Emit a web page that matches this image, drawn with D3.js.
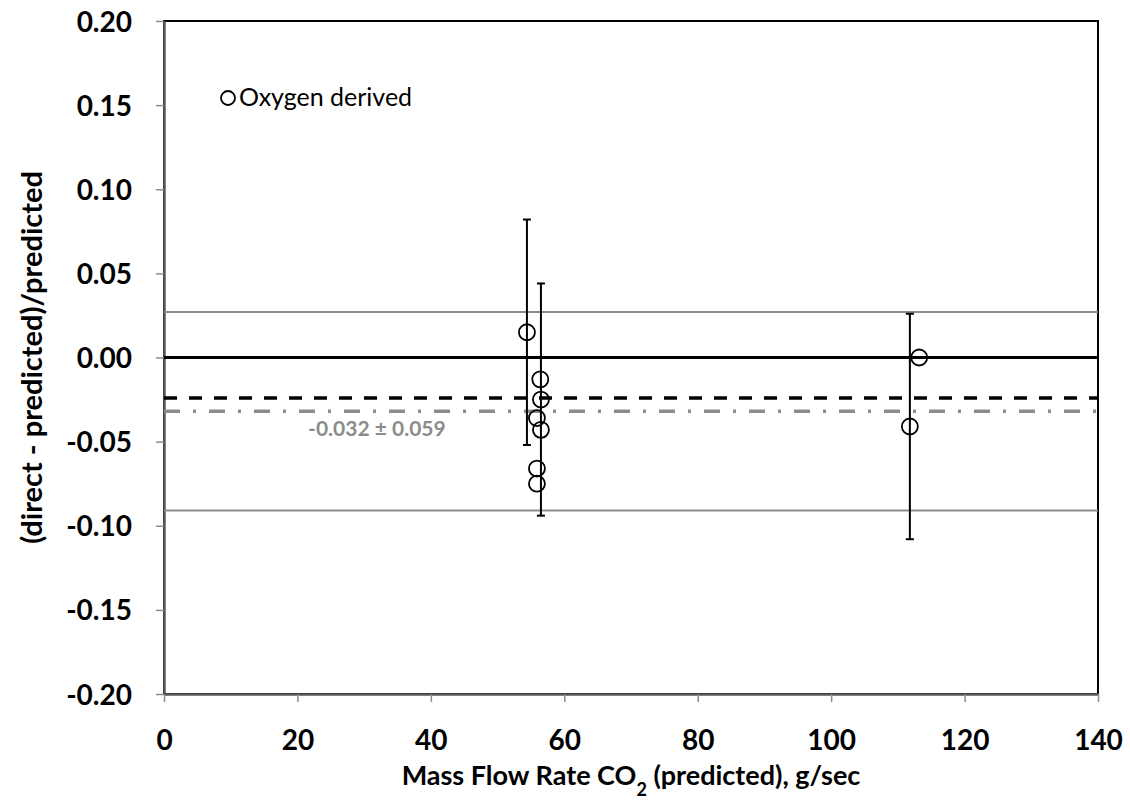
<!DOCTYPE html>
<html>
<head>
<meta charset="utf-8">
<script src="https://cdn.jsdelivr.net/npm/d3@7"></script>
<style>
  body { margin: 0; background: #fff; }
  text { font-family: Lato, "Open Sans", sans-serif; }
</style>
</head>
<body>
<div id="chart"></div>
<script>
// values
var flowRate  = [54.4, 56.4, 56.5, 55.9, 56.5, 55.9, 55.9, 111.8, 113.2];
var relDiff   = [0.015, -0.013, -0.025, -0.036, -0.043, -0.066, -0.075, -0.041, 0.000];
var errHalf   = [0.067, null, 0.069, null, null, null, null, 0.067, null];
var meanValue = -0.032;
var spread    = 0.059;
var dashedRef = -0.024;
var xTicks = [0, 20, 40, 60, 80, 100, 120, 140];
var yTicks = [0.20, 0.15, 0.10, 0.05, 0.00, -0.05, -0.10, -0.15, -0.20];

var margin = { top: 21, right: 32, bottom: 108, left: 164 },
    width = 1130 - margin.left - margin.right,
    height = 802 - margin.top - margin.bottom;

var svg = d3.select("#chart")
    .append("svg")
    .attr("width", 1130)
    .attr("height", 802)
    .append("g")
    .attr("transform", "translate(" + margin.left + "," + margin.top + ")");

var x = d3.scaleLinear().domain([0, 140]).range([0, width]);
var y = d3.scaleLinear().domain([-0.20, 0.20]).range([height, 0]);

// frame
svg.append("rect")
    .attr("width", width)
    .attr("height", height)
    .attr("fill", "none")
    .attr("stroke", "black")
    .attr("stroke-width", 2);

// axes
var xAxis = svg.append("g")
    .attr("transform", "translate(0," + height + ")")
    .call(d3.axisBottom(x).tickValues(xTicks).tickSize(8).tickSizeOuter(0));
var yAxis = svg.append("g")
    .call(d3.axisLeft(y).tickValues(yTicks)
        .tickFormat(function(d) { return d3.format(".2f")(d).replace("\u2212", "-"); })
        .tickSize(8).tickSizeOuter(0).tickPadding(24));

[xAxis, yAxis].forEach(function(a) {
    a.select(".domain").attr("stroke", "#595959").attr("stroke-width", 2.5);
    a.selectAll(".tick line").attr("stroke", "#8c8c8c").attr("stroke-width", 1.5);
    a.selectAll(".tick text")
        .style("font-size", "28px")
        .style("font-weight", "bold")
        .attr("fill", "black");
});
yAxis.selectAll(".tick text").attr("dy", "0.36em");
xAxis.selectAll(".tick text").attr("y", 56).attr("dy", 0);

// reference lines
function hline(v, color, w, dash) {
    svg.append("line")
        .attr("x1", 0).attr("x2", width)
        .attr("y1", y(v)).attr("y2", y(v))
        .attr("stroke", color)
        .attr("stroke-width", w)
        .attr("stroke-dasharray", dash);
}
hline(meanValue + spread, "#8c8c8c", 2, null);
hline(meanValue - spread, "#8c8c8c", 2, null);
hline(0, "black", 3, null);
hline(dashedRef, "black", 3.5, "13,12");
hline(meanValue, "#8c8c8c", 3.5, "16,13,3,13");

svg.append("text")
    .attr("x", x(21.6))
    .attr("y", y(meanValue) + 25)
    .attr("fill", "#8c8c8c")
    .style("font-size", "21px")
    .style("font-weight", "bold")
    .text("-0.032 \u00b1 0.059");

// error bars
var pts = flowRate.map(function(d, i) { return { x: d, y: relDiff[i], e: errHalf[i] }; });
var bars = svg.selectAll(".err")
    .data(pts.filter(function(d) { return d.e != null; }))
    .enter().append("g").attr("class", "err")
    .attr("stroke", "black").attr("stroke-width", 2);
bars.append("line")
    .attr("x1", function(d) { return x(d.x); }).attr("x2", function(d) { return x(d.x); })
    .attr("y1", function(d) { return y(d.y + d.e); }).attr("y2", function(d) { return y(d.y - d.e); });
[1, -1].forEach(function(s) {
    bars.append("line")
        .attr("x1", function(d) { return x(d.x) - 4; }).attr("x2", function(d) { return x(d.x) + 4; })
        .attr("y1", function(d) { return y(d.y + s * d.e); }).attr("y2", function(d) { return y(d.y + s * d.e); });
});

// points
svg.selectAll(".pt")
    .data(pts)
    .enter().append("circle")
    .attr("class", "pt")
    .attr("cx", function(d) { return x(d.x); })
    .attr("cy", function(d) { return y(d.y); })
    .attr("r", 8)
    .attr("fill", "none")
    .attr("stroke", "black")
    .attr("stroke-width", 1.8);

// legend
svg.append("circle")
    .attr("cx", 64).attr("cy", 77).attr("r", 7)
    .attr("fill", "none").attr("stroke", "black").attr("stroke-width", 1.8);
svg.append("text")
    .attr("x", 75).attr("y", 85)
    .style("font-size", "25px")
    .text("Oxygen derived");

// axis titles
var xt = svg.append("text")
    .attr("x", width / 2)
    .attr("y", height + 91)
    .attr("text-anchor", "middle")
    .style("font-size", "27px")
    .style("font-weight", "bold");
xt.append("tspan").text("Mass Flow Rate CO");
xt.append("tspan").attr("baseline-shift", "sub").style("font-size", "18px").text("2");
xt.append("tspan").text(" (predicted), g/sec");

svg.append("text")
    .attr("transform", "translate(" + (-122) + "," + (height / 2) + ") rotate(-90)")
    .attr("text-anchor", "middle")
    .style("font-size", "29px")
    .style("font-weight", "bold")
    .text("(direct - predicted)/predicted");
</script>
</body>
</html>
